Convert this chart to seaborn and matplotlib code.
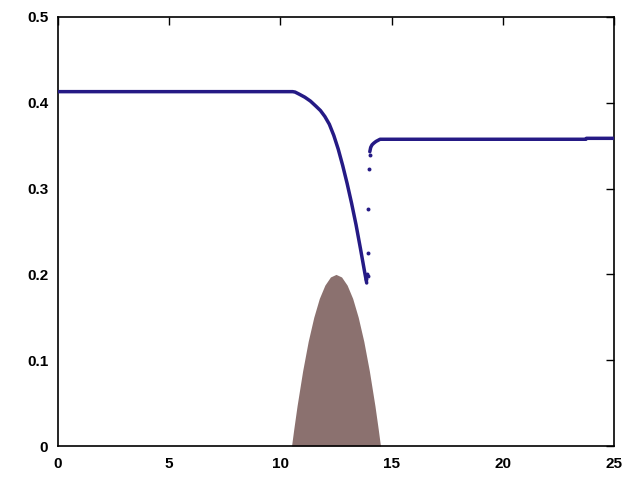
# Water surface over a parabolic bump (gnuplot-style look)

import numpy as np
import pandas as pd
import seaborn as sns
import matplotlib
matplotlib.use('Agg')
import matplotlib.pyplot as plt

sns.set_theme(style="white")
plt.rcParams['font.family'] = ['Liberation Sans', 'DejaVu Sans']

# bump profile
bump_x = [10.5, 10.6, 10.75, 11.0, 11.25, 11.5, 11.75, 12.0, 12.25, 12.5,
          12.75, 13.0, 13.25, 13.5, 13.75, 14.0, 14.25, 14.4, 14.5]
bump_z = [0.0, 0.0195, 0.047, 0.0875, 0.122, 0.150, 0.172, 0.1875, 0.197,
          0.200, 0.197, 0.1875, 0.172, 0.150, 0.122, 0.0875, 0.047, 0.0195, 0.0]

# free surface, continuous part
surf_x = [0.0, 10.55, 10.66, 10.85, 11.1, 11.35, 11.6, 11.8, 12.0,
          12.2, 12.4, 12.6, 12.8, 13.0, 13.2, 13.4, 13.6, 13.8, 13.88]
surf_h = [0.413, 0.413, 0.4125, 0.410, 0.4065, 0.402, 0.396, 0.391, 0.384,
          0.375, 0.362, 0.346, 0.327, 0.306, 0.283, 0.258, 0.230, 0.201, 0.190]

# downstream part after the jump
down_x = [14.02, 14.06, 14.12, 14.2, 14.3, 14.48, 23.74, 23.76, 25.0]
down_h = [0.343, 0.348, 0.351, 0.353, 0.355, 0.3575, 0.3575, 0.3586, 0.3586]

# isolated points inside the shock
shock_x = [13.95, 13.95, 13.95, 13.99, 14.02, 13.86, 13.90]
shock_h = [0.198, 0.2253, 0.276, 0.3225, 0.339, 0.195, 0.200]

navy = '#251a85'
brown = '#8b716f'

fig = plt.figure(figsize=(6.4, 4.8), dpi=100)
ax = fig.add_axes([58 / 640, 34 / 480, 556 / 640, 429 / 480])

ax.fill_between(bump_x, 0, bump_z, color=brown, linewidth=0, zorder=1)

sns.lineplot(x=surf_x, y=surf_h, sort=False, estimator=None,
             color=navy, linewidth=2.5, ax=ax, zorder=3)
sns.lineplot(x=down_x, y=down_h, sort=False, estimator=None,
             color=navy, linewidth=2.5, ax=ax, zorder=3)
sns.scatterplot(x=shock_x, y=shock_h, color=navy, s=8, linewidth=0,
                ax=ax, zorder=4)

ax.set_xlim(0, 25)
ax.set_ylim(0, 0.5)
ax.set_xticks([0, 5, 10, 15, 20, 25])
ax.set_yticks([0, 0.1, 0.2, 0.3, 0.4, 0.5])
ax.set_yticklabels(['0', '0.1', '0.2', '0.3', '0.4', '0.5'])
ax.tick_params(direction='in', length=6, width=1, top=True, right=True,
               labelsize=11, colors='black')
ax.tick_params(axis='x', pad=8)
ax.tick_params(axis='y', pad=7)
for lab in ax.get_xticklabels() + ax.get_yticklabels():
    lab.set_fontweight('bold')
for sp in ax.spines.values():
    sp.set_color('black')
    sp.set_linewidth(1.2)

fig.savefig('out.png', dpi=100)
plt.close()
